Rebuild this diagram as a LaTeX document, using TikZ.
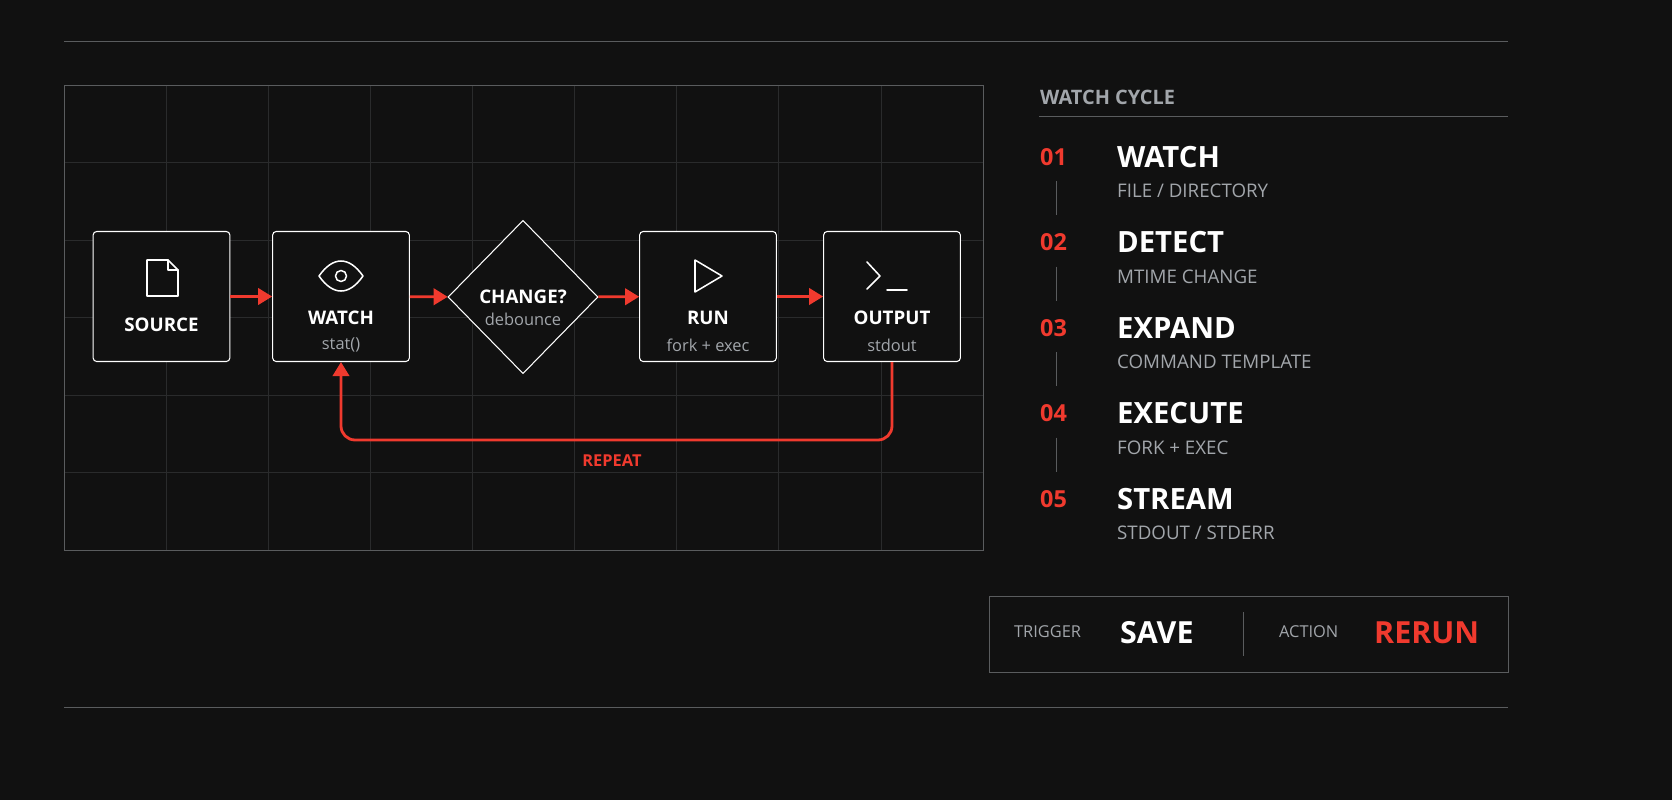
\documentclass[tikz,border=0pt]{standalone}
\usepackage{fontspec}
\setmainfont{Open Sans}
\usetikzlibrary{arrows.meta,shapes.geometric,positioning}
\definecolor{bg}{HTML}{111111}
\definecolor{accent}{HTML}{F03A2E}
\definecolor{muted}{HTML}{A2A6AB}
\definecolor{rule}{HTML}{5A5C5E}
\definecolor{gridc}{HTML}{2A2B2C}
\begin{document}
\begin{tikzpicture}[
  x = 0.03cm, y = -0.03cm,
  > = {Triangle[length=12pt,width=14pt]},
  box/.style = {rectangle, draw=white, line width=0.9pt, rounded corners=3pt,
                fill=bg, minimum width=4.1cm, minimum height=3.9cm},
  flow/.style = {->, draw=accent, line width=2.4pt},
  lbl/.style = {font=\bfseries\fontsize{16}{18}\selectfont, text=white},
  sub/.style = {font=\fontsize{14}{16}\selectfont, text=muted},
  icon/.style = {draw=white, line width=1.3pt, line join=round, line cap=round},
  num/.style = {anchor=west, font=\bfseries\fontsize{20}{22}\selectfont, text=accent},
  stepttl/.style = {anchor=west, font=\bfseries\fontsize{25}{28}\selectfont, text=white},
  stepsub/.style = {anchor=west, font=\fontsize{16}{18}\selectfont, text=muted}
]
\fill[bg] (0,0) rectangle (1672,800);
\useasboundingbox (0,0) rectangle (1672,800);

% frame lines
\draw[rule, line width=0.6pt] (64,41) -- (1508,41);
\draw[rule, line width=0.6pt] (64,707) -- (1508,707);

% grid panel
\foreach \i in {1,...,8} \draw[gridc, line width=0.5pt] (64+\i*102.1,85) -- (64+\i*102.1,550);
\foreach \j in {1,...,5} \draw[gridc, line width=0.5pt] (64,85+\j*77.5) -- (983,85+\j*77.5);
\draw[rule, line width=0.7pt] (64,85) rectangle (983,550);

% flow nodes
\node[box] (source) at (161.5,296.5) {};
\node[box] (watch) at (341,296.5) {};
\node[diamond, draw=white, line width=0.9pt, fill=bg, minimum width=4.5cm, minimum height=4.6cm,
      inner sep=0pt] (change) at (523,297) {};
\node[box] (run) at (708,296.5) {};
\node[box] (output) at (892,296.5) {};

\node[lbl] at (161.5,325) {SOURCE};
\node[lbl] at (341,318) {WATCH};
\node[sub] at (341,345) {stat()};
\node[lbl] at (523,297) {CHANGE?};
\node[sub] at (523,319) {debounce};
\node[lbl] at (708,318) {RUN};
\node[sub] at (708,345) {fork + exec};
\node[lbl] at (892,318) {OUTPUT};
\node[sub] at (892,345) {stdout};

% icons
\draw[icon] (147,260) -- (168,260) -- (178,270) -- (178,296) -- (147,296) -- cycle;
\draw[icon] (168,260) -- (168,270) -- (178,270);
\draw[icon] (319,276) .. controls (333,256) and (349,256) .. (363,276)
            .. controls (349,296) and (333,296) .. (319,276) -- cycle;
\draw[icon] (341,276) circle (5.5);
\draw[icon] (695,260) -- (722,276) -- (695,292) -- cycle;
\draw[icon] (867,262) -- (880,276) -- (867,289);
\draw[icon] (887,290) -- (907,290);

% connectors
\draw[flow] (source) -- (watch);
\draw[flow] (watch) -- (change);
\draw[flow] (change) -- (run);
\draw[flow] (run) -- (output);
\coordinate (loopR) at (892,440);
\coordinate (loopL) at (341,440);
\draw[flow, rounded corners=12pt] (output.south) -- (loopR) -- (loopL) -- (watch.south);
\node[font=\bfseries\fontsize{14}{16}\selectfont, text=accent] (repeat) at (612,461) {REPEAT};

% legend
\node[anchor=west, font=\bfseries\fontsize{17}{19}\selectfont, text=muted] (cycle) at (1036,97) {WATCH CYCLE};
\draw[rule, line width=0.7pt] (1039,116) -- (1508,116);
\foreach \n/\t/\s [count=\k from 0] in {01/WATCH/{FILE / DIRECTORY}, 02/DETECT/MTIME CHANGE,
    03/EXPAND/COMMAND TEMPLATE, 04/EXECUTE/FORK + EXEC, 05/STREAM/{STDOUT / STDERR}} {
  \node[num] at (1036,157+\k*85.5) {\n};
  \node[stepttl] at (1113,157+\k*85.5) {\t};
  \node[stepsub] at (1113,191+\k*85.5) {\s};
}
\foreach \k in {0,...,3} \draw[rule, line width=0.7pt] (1056,181+\k*85.5) -- (1056,215+\k*85.5);

% trigger box
\draw[rule, line width=0.7pt] (989,596) rectangle (1508,672);
\node[anchor=west, font=\fontsize{14}{16}\selectfont, text=muted] (trig) at (1010,632) {TRIGGER};
\node[anchor=west, font=\bfseries\fontsize{26}{28}\selectfont, text=white] (save) at (1116,633) {SAVE};
\draw[rule, line width=0.7pt] (1243,612) -- (1243,656);
\node[anchor=west, font=\fontsize{14}{16}\selectfont, text=muted] (act) at (1275,632) {ACTION};
\node[anchor=west, font=\bfseries\fontsize{26}{28}\selectfont, text=accent] (rerun) at (1370,633) {RERUN};
\end{tikzpicture}
\end{document}
